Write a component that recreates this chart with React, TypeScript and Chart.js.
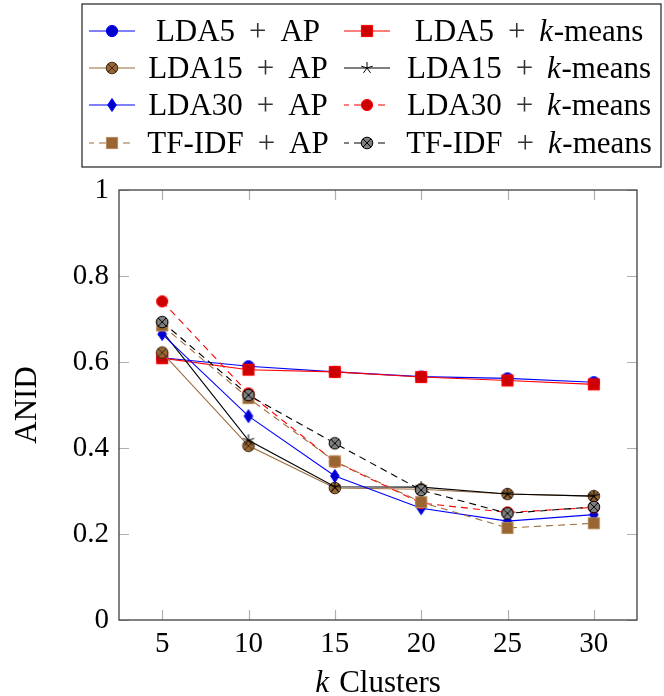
import React, { useEffect, useRef } from 'react';
import { Chart, registerables } from 'chart.js';

Chart.register(...registerables);

// ---------- data ----------
const kValues = [5, 10, 15, 20, 25, 30];
const lda5Ap = [0.610, 0.590, 0.577, 0.566, 0.562, 0.553];
const lda5Km = [0.609, 0.582, 0.577, 0.565, 0.557, 0.548];
const lda15Ap = [0.622, 0.405, 0.307, 0.304, 0.293, 0.288];
const lda15Km = [0.672, 0.418, 0.310, 0.309, 0.293, 0.288];
const lda30Ap = [0.665, 0.474, 0.335, 0.260, 0.230, 0.245];
const lda30Km = [0.741, 0.527, 0.368, 0.272, 0.250, 0.262];
const tfidfAp = [0.685, 0.516, 0.369, 0.274, 0.214, 0.225];
const tfidfKm = [0.693, 0.523, 0.411, 0.302, 0.248, 0.263];
const yTicks = [0, 0.2, 0.4, 0.6, 0.8, 1];
const seriesLabels = [
  'LDA5 + AP', 'LDA5 + k-means',
  'LDA15 + AP', 'LDA15 + k-means',
  'LDA30 + AP', 'LDA30 + k-means',
  'TF-IDF + AP', 'TF-IDF + k-means',
];
const xTitle = 'k Clusters';
const yTitle = 'ANID';

const FONT = '"Liberation Serif", "Times New Roman", serif';

type MarkerKind = 'circle' | 'square' | 'diamond' | 'otimes' | 'star';

function makeMarker(kind: MarkerKind, fill: string, stroke: string): HTMLCanvasElement {
  const c = document.createElement('canvas');
  c.width = 18;
  c.height = 18;
  const ctx = c.getContext('2d')!;
  const cx = 9, cy = 9;
  ctx.lineWidth = 1;
  ctx.fillStyle = fill;
  ctx.strokeStyle = stroke;
  if (kind === 'circle') {
    ctx.beginPath();
    ctx.arc(cx, cy, 5.6, 0, Math.PI * 2);
    ctx.fill();
    ctx.stroke();
  } else if (kind === 'square') {
    ctx.beginPath();
    ctx.rect(cx - 5.6, cy - 5.6, 11.2, 11.2);
    ctx.fill();
    ctx.stroke();
  } else if (kind === 'diamond') {
    ctx.beginPath();
    ctx.moveTo(cx, cy - 6.5);
    ctx.lineTo(cx + 4.3, cy);
    ctx.lineTo(cx, cy + 6.5);
    ctx.lineTo(cx - 4.3, cy);
    ctx.closePath();
    ctx.fill();
    ctx.stroke();
  } else if (kind === 'otimes') {
    const r = 5.8;
    ctx.beginPath();
    ctx.arc(cx, cy, r, 0, Math.PI * 2);
    ctx.fill();
    ctx.stroke();
    const d = r * Math.SQRT1_2;
    ctx.beginPath();
    ctx.moveTo(cx - d, cy - d);
    ctx.lineTo(cx + d, cy + d);
    ctx.moveTo(cx + d, cy - d);
    ctx.lineTo(cx - d, cy + d);
    ctx.stroke();
  } else if (kind === 'star') {
    ctx.beginPath();
    for (let i = 0; i < 5; i++) {
      const a = Math.PI / 2 + (i * 2 * Math.PI) / 5;
      ctx.moveTo(cx, cy);
      ctx.lineTo(cx + 6 * Math.cos(a), cy - 6 * Math.sin(a));
    }
    ctx.stroke();
  }
  return c;
}

function drawRich(ctx: CanvasRenderingContext2D, text: string, cx: number, baseY: number, size: number) {
  type Tok = { t: string; italic?: boolean; gapBefore?: number; color?: string };
  const toks: Tok[] = [];
  const parts = text.split(' + ');
  const gap = size * 0.45;
  parts.forEach((p, i) => {
    if (i > 0) {
      toks.push({ t: '+', gapBefore: gap, color: '#333' });
    }
    const g = i > 0 ? gap : 0;
    if (p.startsWith('k-') || p.startsWith('k ')) {
      toks.push({ t: 'k', italic: true, gapBefore: g });
      toks.push({ t: p.slice(1), gapBefore: p.startsWith('k ') ? size * 0.08 : size * 0.02 });
    } else {
      toks.push({ t: p, gapBefore: g });
    }
  });
  const widths = toks.map((tk) => {
    ctx.font = `${tk.italic ? 'italic ' : ''}${size}px ${FONT}`;
    return ctx.measureText(tk.t).width;
  });
  let total = 0;
  toks.forEach((tk, i) => { total += (tk.gapBefore || 0) + widths[i]; });
  let x = cx - total / 2;
  ctx.textAlign = 'left';
  ctx.textBaseline = 'alphabetic';
  toks.forEach((tk, i) => {
    x += tk.gapBefore || 0;
    ctx.font = `${tk.italic ? 'italic ' : ''}${size}px ${FONT}`;
    ctx.fillStyle = tk.color || '#000';
    ctx.fillText(tk.t, x, baseY);
    x += widths[i];
  });
}

export default function App() {
  const ref = useRef<HTMLCanvasElement | null>(null);

  useEffect(() => {
    if (!ref.current) return;
    const blue = '#0000ff';
    const red = '#ff0000';
    const brown = '#9c6b3c';
    const markers = [
      makeMarker('circle', '#0000cc', blue),
      makeMarker('square', '#cc0000', red),
      makeMarker('otimes', '#996633', '#3d2a14'),
      makeMarker('star', '#000', '#000'),
      makeMarker('diamond', '#0000cc', blue),
      makeMarker('circle', '#cc0000', red),
      makeMarker('square', '#996633', '#b58a5c'),
      makeMarker('otimes', '#808080', '#000'),
    ];
    const lineColors = [blue, red, brown, '#000', blue, red, brown, '#000'];
    const dashed = [false, false, false, false, false, true, true, true];
    const values = [lda5Ap, lda5Km, lda15Ap, lda15Km, lda30Ap, lda30Km, tfidfAp, tfidfKm];

    const datasets = values.map((vals, i) => ({
      label: seriesLabels[i],
      data: kValues.map((k, j) => ({ x: k, y: vals[j] })),
      borderColor: lineColors[i],
      backgroundColor: lineColors[i],
      borderWidth: 1.1,
      borderDash: dashed[i] ? [7, 5] : [],
      pointStyle: markers[i],
      pointRadius: 6,
      tension: 0,
      order: 10 - i,
    }));

    const framePlugin = {
      id: 'frame',
      beforeDatasetsDraw(chart: any) {
        const { ctx, chartArea } = chart;
        const { left, right, top, bottom } = chartArea;
        const xs = chart.scales.x;
        const ys = chart.scales.y;
        ctx.save();
        ctx.strokeStyle = '#b0b0b0';
        ctx.lineWidth = 1.2;
        ctx.beginPath();
        kValues.forEach((k) => {
          const px = Math.round(xs.getPixelForValue(k)) + 0.5;
          ctx.moveTo(px, bottom);
          ctx.lineTo(px, bottom - 10);
          ctx.moveTo(px, top);
          ctx.lineTo(px, top + 10);
        });
        yTicks.forEach((v) => {
          const py = Math.round(ys.getPixelForValue(v)) + 0.5;
          ctx.moveTo(left, py);
          ctx.lineTo(left + 10, py);
          ctx.moveTo(right, py);
          ctx.lineTo(right - 10, py);
        });
        ctx.stroke();
        ctx.strokeStyle = '#404040';
        ctx.lineWidth = 1.3;
        ctx.strokeRect(left, top, right - left, bottom - top);
        ctx.restore();
      },
      afterDraw(chart: any) {
        const { ctx, chartArea } = chart;
        ctx.save();
        drawRich(ctx, xTitle, (chartArea.left + chartArea.right) / 2, 692, 31);
        ctx.strokeStyle = '#303030';
        ctx.lineWidth = 1.3;
        ctx.strokeRect(82, 4, 579, 163);
        const rowY = [31, 68, 105, 143];
        const symX = [112, 367];
        const textX = [238, 529];
        seriesLabels.forEach((lab, i) => {
          const r = Math.floor(i / 2);
          const c = i % 2;
          const y = rowY[r];
          ctx.strokeStyle = lineColors[i];
          ctx.lineWidth = 1.1;
          ctx.setLineDash(dashed[i] ? [7, 5] : []);
          ctx.lineDashOffset = dashed[i] ? 2 : 0;
          ctx.beginPath();
          ctx.moveTo(symX[c] - 23, y);
          ctx.lineTo(symX[c] + 23, y);
          ctx.stroke();
          ctx.setLineDash([]);
          const m = markers[i];
          ctx.drawImage(m, symX[c] - m.width / 2, y - m.height / 2);
          drawRich(ctx, lab, textX[c], y + 10, 31);
        });
        ctx.restore();
      },
    };

    const chart = new Chart(ref.current, {
      type: 'line',
      data: { datasets },
      options: {
        animation: false,
        responsive: true,
        maintainAspectRatio: false,
        layout: { padding: { top: 190, right: 27, bottom: 0, left: 0 } },
        plugins: {
          legend: { display: false },
          tooltip: { enabled: false },
        },
        scales: {
          x: {
            type: 'linear',
            min: 2.5,
            max: 32.5,
            afterBuildTicks: (scale: any) => {
              scale.ticks = kValues.map((v) => ({ value: v }));
            },
            afterFit: (scale: any) => {
              scale.height = 76;
            },
            grid: { display: false, drawTicks: false },
            border: { display: false },
            ticks: {
              color: '#000',
              padding: 7,
              maxRotation: 0,
              font: { family: FONT, size: 29 },
              callback: (v: any) => String(v),
            },
          },
          y: {
            type: 'linear',
            min: 0,
            max: 1,
            afterBuildTicks: (scale: any) => {
              scale.ticks = yTicks.map((v) => ({ value: v }));
            },
            afterFit: (scale: any) => {
              scale.width = 119;
            },
            grid: { display: false, drawTicks: false },
            border: { display: false },
            ticks: {
              color: '#000',
              padding: 10,
              font: { family: FONT, size: 29 },
              callback: (v: any) => String(Number(Number(v).toFixed(1))),
            },
            title: {
              display: true,
              text: yTitle,
              color: '#000',
              font: { family: FONT, size: 31 },
              padding: { top: 9, bottom: 4 },
            },
          },
        },
      } as any,
      plugins: [framePlugin],
    });
    return () => chart.destroy();
  }, []);

  return (
    <div style={{ position: 'absolute', left: 0, top: 0, width: 664, height: 696, background: '#fff' }}>
      <canvas ref={ref} />
    </div>
  );
}
